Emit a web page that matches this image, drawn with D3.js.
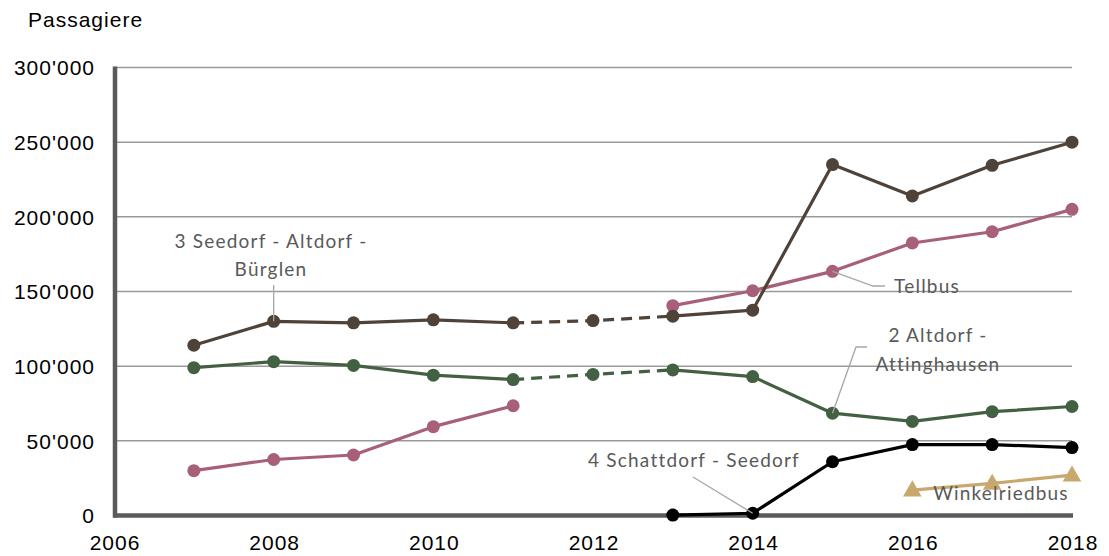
<!DOCTYPE html>
<html>
<head>
<meta charset="utf-8">
<script src="https://cdn.jsdelivr.net/npm/d3@7/dist/d3.min.js"></script>
<style>
  html, body { margin: 0; padding: 0; background: #fff; }
  svg { display: block; }
  .tick text { font-family: "Liberation Sans", Arial, sans-serif; font-size: 21px; fill: #000; letter-spacing: 1px; }
  .lbl { font-family: Lato, "Open Sans", sans-serif; font-size: 19px; fill: #595959; letter-spacing: 1.2px; }
</style>
</head>
<body>
<svg id="chart" width="1109" height="556"></svg>
<script>
// Passenger counts per bus line, 2007–2018 (null = no figure)
const years = [2007, 2008, 2009, 2010, 2011, 2012, 2013, 2014, 2015, 2016, 2017, 2018];
const seedorfAltdorfBuerglen = [114000, 130000, 129000, 131000, 129000, 130500, 133500, 137500, 235000, 214000, 234500, 250000];
const altdorfAttinghausen   = [99000, 103000, 100500, 94000, 91000, 94500, 97500, 93000, 68500, 63000, 69500, 73000];
const tellbus               = [30000, 37500, 40500, 59500, 73500, null, 140500, 150500, 163500, 182500, 190000, 205000];
const schattdorfSeedorf     = [null, null, null, null, null, null, 300, 1500, 36000, 47500, 47500, 45500];
const winkelriedbus         = [null, null, null, null, null, null, null, null, null, 17000, 21500, 27000];

const yTicks = [0, 50000, 100000, 150000, 200000, 250000, 300000];
const xTicks = [2006, 2008, 2010, 2012, 2014, 2016, 2018];

const svg = d3.select("#chart");
const x = d3.scaleLinear().domain([2006, 2018]).range([114, 1072]);
const y = d3.scaleLinear().domain([0, 300000]).range([515.5, 67.5]);

const fmt = v => v === 0 ? "0" : d3.format(",")(v).replace(/,/g, "'");

// gridlines
svg.append("g").selectAll("line").data(yTicks.filter(v => v > 0)).join("line")
  .attr("x1", x(2006)).attr("x2", x(2018))
  .attr("y1", d => y(d)).attr("y2", d => y(d))
  .attr("stroke", "#9a9a9a").attr("stroke-width", 1.5);

// axes
const yAxis = svg.append("g").attr("transform", `translate(${x(2006) + 1},0)`)
  .call(d3.axisLeft(y).tickValues(yTicks).tickFormat(fmt).tickSize(0).tickPadding(20));
yAxis.select(".domain").remove();
yAxis.selectAll(".tick text").attr("dy", "0.35em");

const xAxis = svg.append("g").attr("transform", `translate(0,${y(0)})`)
  .call(d3.axisBottom(x).tickValues(xTicks).tickFormat(d3.format("d")).tickSize(0).tickPadding(20));
xAxis.select(".domain").remove();
xAxis.selectAll(".tick text").attr("dx", "0.5px");

svg.append("line").attr("x1", x(2006) + 1).attr("x2", x(2006) + 1)
  .attr("y1", y(300000) - 1).attr("y2", y(0) + 2)
  .attr("stroke", "#5a5a5a").attr("stroke-width", 4.5);
svg.append("line").attr("x1", x(2006) - 1).attr("x2", x(2018) + 1)
  .attr("y1", y(0)).attr("y2", y(0))
  .attr("stroke", "#5a5a5a").attr("stroke-width", 4.5);

svg.append("text").attr("x", 28).attr("y", 27)
  .style("font-family", '"Liberation Sans", Arial, sans-serif').style("font-size", "21px")
  .style("letter-spacing", "1px")
  .text("Passagiere");

// series drawing
const pts = vals => years.map((yr, i) => ({ yr, v: vals[i] }));
const line = d3.line().defined(d => d.v != null).x(d => x(d.yr)).y(d => y(d.v));

function drawSeries(vals, color, dashFrom, dashTo, marker) {
  const data = pts(vals);
  const solid = dashFrom == null ? data : data.map(d => (d.yr > dashFrom && d.yr < dashTo) ? { yr: d.yr, v: null } : d);
  svg.append("path").datum(solid).attr("d", line)
    .attr("fill", "none").attr("stroke", color).attr("stroke-width", 3.2).attr("stroke-linejoin", "round");
  if (dashFrom != null) {
    const dash = data.filter(d => d.yr >= dashFrom && d.yr <= dashTo);
    svg.append("path").datum(dash).attr("d", line)
      .attr("fill", "none").attr("stroke", color).attr("stroke-width", 3.2).attr("stroke-dasharray", "11,7");
  }
  const defined = data.filter(d => d.v != null);
  if (marker === "triangle") {
    svg.append("g").selectAll("path").data(defined).join("path")
      .attr("d", d3.symbol().type(d3.symbolTriangle).size(150))
      .attr("transform", d => `translate(${x(d.yr)},${y(d.v) + 1})`)
      .attr("fill", color);
  } else {
    svg.append("g").selectAll("circle").data(defined).join("circle")
      .attr("cx", d => x(d.yr)).attr("cy", d => y(d.v)).attr("r", 6.5)
      .attr("fill", color);
  }
}

drawSeries(tellbus, "#a85f78", null, null);
drawSeries(seedorfAltdorfBuerglen, "#4f4339", 2011, 2013);
drawSeries(altdorfAttinghausen, "#436142", 2011, 2013);
drawSeries(schattdorfSeedorf, "#000000", null, null);
drawSeries(winkelriedbus, "#c8a86d", null, null, "triangle");

// leader lines and series labels
const leader = (pointsArr) => svg.append("path")
  .attr("d", d3.line()(pointsArr)).attr("fill", "none")
  .attr("stroke", "#a6a6a6").attr("stroke-width", 1.3);

leader([[x(2008), 285], [x(2008), y(seedorfAltdorfBuerglen[1])]]);
leader([[x(2015), y(tellbus[8])], [873, 286], [885, 286]]);
leader([[x(2015), y(altdorfAttinghausen[8])], [856, 347], [867, 347]]);
leader([[693, 477], [x(2014), y(schattdorfSeedorf[7])]]);

const label = (lines, cx, y0, lh) => {
  const t = svg.append("text").attr("class", "lbl").attr("text-anchor", "middle");
  lines.forEach((s, i) => t.append("tspan").attr("x", cx).attr("y", y0 + i * lh).text(s));
};
label(["3 Seedorf - Altdorf -", "Bürglen"], 271, 248, 28);
label(["Tellbus"], 927, 293, 0);
label(["2 Altdorf -", "Attinghausen"], 938, 342, 29);
label(["4 Schattdorf - Seedorf"], 694, 467, 0);
label(["Winkelriedbus"], 1001, 500, 0);
</script>
</body>
</html>
